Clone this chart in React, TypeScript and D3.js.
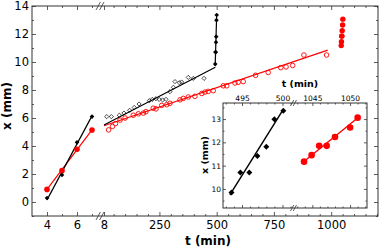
import { FC, useEffect, useRef } from 'react';
import * as d3 from 'd3';

// early phase (t = 4..7 min)
const earlyT = [4, 5, 6, 7];
const earlyBlackX = [0.29, 1.93, 4.26, 6.1];
const earlyRedX = [0.9, 2.24, 3.76, 5.14];

// slow phase (open markers)
const slowBlackT = [20, 40, 75, 95, 120, 140, 161, 206, 219, 235, 249, 264, 279, 296, 311, 318, 337, 347, 376, 398, 445];
const slowBlackX = [6.1, 6.1, 6.2, 6.35, 6.55, 6.75, 7.0, 7.24, 7.33, 7.38, 7.33, 7.29, 7.33, 7.88, 8.19, 8.6, 8.52, 8.57, 8.9, 8.83, 8.83];
const slowRedT = [28, 45, 58, 78, 100, 136, 158, 180, 191, 223, 235, 260, 282, 296, 340, 354, 376, 405, 435, 449, 463, 485, 529, 544, 580, 594, 616, 670, 725, 780, 803, 832, 881, 980];
const slowRedX = [5.15, 5.4, 5.6, 5.85, 6.0, 6.2, 6.3, 6.35, 6.45, 6.7, 6.65, 6.9, 6.95, 7.05, 7.3, 7.4, 7.5, 7.55, 7.75, 7.85, 7.9, 7.95, 8.3, 8.3, 8.5, 8.55, 8.6, 9.05, 9.25, 9.6, 9.65, 9.75, 10.5, 10.5];

// fast phase (filled markers, also shown in the inset)
const burstBlackT = [493.7, 494.8, 495.9, 496.9, 498.0, 499.0, 500.1];
const burstBlackX = [9.85, 10.71, 10.7, 11.41, 11.81, 12.99, 13.36];
const burstRedT = [1043.9, 1044.9, 1045.9, 1046.9, 1048.0, 1050.0, 1051.0];
const burstRedX = [11.17, 11.45, 11.85, 11.85, 12.23, 12.64, 13.06];

// fitted lines [t, x]
const earlyBlackFit: [number, number][] = [[4, 0.15], [7, 6.15]];
const earlyRedFit: [number, number][] = [[4, 0.9], [7, 5.15]];
const slowBlackFit: [number, number][] = [[8, 5.5], [494, 9.62]];
const slowRedFit: [number, number][] = [[8, 5.45], [985, 10.85]];
const burstBlackFit: [number, number][] = [[493.5, 9.74], [500.1, 13.42]];
const burstRedFit: [number, number][] = [[1043.6, 11.1], [1051.2, 13.1]];

// ticks
const mainYTicks = [0, 2, 4, 6, 8, 10, 12, 14];
const mainYMinor = [-1, 1, 3, 5, 7, 9, 11, 13];
const earlyTicks = [4, 6];
const earlyMinor = [5, 7];
const slowTicks = [8, 250, 500, 750, 1000];
const slowMinor = d3.range(50, 1201, 50).filter((v) => v % 250 !== 0);
const insetYTicks = [10, 11, 12, 13];
const insetYMinor = [9.5, 10.5, 11.5, 12.5, 13.5];
const insetLeftTicks = [495, 500];
const insetLeftMinor = [493, 494, 496, 497, 498, 499, 501];
const insetRightTicks = [1045, 1050];
const insetRightMinor = [1043, 1044, 1046, 1047, 1048, 1049, 1051, 1052];

const RED = '#ff0000';
const AX = '#333';
const FONT = 'DejaVu Sans';

const diamond = (h: number) => `M0,${-h}L${h},0L0,${h}L${-h},0Z`;

type G = d3.Selection<SVGGElement, unknown, null, undefined>;
type Lin = d3.ScaleLinear<number, number>;

const ticks = (parent: G, axis: d3.Axis<d3.NumberValue>, tr: string, fs: number) => {
  const g = parent.append('g').attr('transform', tr).call(axis);
  g.select('.domain').remove();
  g.attr('font-family', null).attr('font-size', null);
  g.selectAll('line').attr('stroke', AX).attr('stroke-width', 0.8);
  g.selectAll('text')
    .attr('fill', '#000')
    .style('font-family', FONT)
    .style('font-size', fs + 'px');
};

const breakMark = (parent: G, x: number, y: number, s: number) => {
  [-s * 0.45, s * 0.45].forEach((o) => {
    parent
      .append('line')
      .attr('x1', x + o - s * 0.55)
      .attr('y1', y + s)
      .attr('x2', x + o + s * 0.55)
      .attr('y2', y - s)
      .attr('stroke', AX)
      .attr('stroke-width', 0.8);
  });
};

const fitLine = (parent: G, pts: [number, number][], xs: Lin, ys: Lin, color: string, w: number) => {
  parent
    .append('path')
    .attr('d', d3.line<[number, number]>().x((d) => xs(d[0])).y((d) => ys(d[1]))(pts))
    .attr('fill', 'none')
    .attr('stroke', color)
    .attr('stroke-width', w);
};

const App: FC = () => {
  const svgRef = useRef<SVGSVGElement>(null);

  useEffect(() => {
    if (!svgRef.current) return;
    const svg = d3.select(svgRef.current);
    svg.selectAll('*').remove();
    const root = svg.append('g') as G;

    const y = d3.scaleLinear().domain([-1, 14]).range([216, 6]);
    const xA = d3.scaleLinear().domain([3, 7.5]).range([32, 99.5]);
    const xB = d3.scaleLinear().domain([-7.3, 1204.5]).range([100.5, 378]);

    // fits
    fitLine(root, earlyRedFit, xA, y, RED, 1.2);
    fitLine(root, earlyBlackFit, xA, y, '#000', 1.2);
    fitLine(root, slowRedFit, xB, y, RED, 1.2);
    fitLine(root, slowBlackFit, xB, y, '#000', 1.2);
    fitLine(root, burstBlackFit, xB, y, '#000', 1.2);

    // early markers
    root.selectAll('.er').data(earlyT).join('circle')
      .attr('cx', (d) => xA(d)).attr('cy', (_, i) => y(earlyRedX[i]))
      .attr('r', 2.8).attr('fill', RED);
    root.selectAll('.eb').data(earlyT).join('path')
      .attr('d', diamond(2.3))
      .attr('transform', (d, i) => `translate(${xA(d)},${y(earlyBlackX[i])})`)
      .attr('fill', '#000');

    // slow markers
    root.selectAll('.sr').data(slowRedT).join('circle')
      .attr('cx', (d) => xB(d)).attr('cy', (_, i) => y(slowRedX[i]))
      .attr('r', 2.3).attr('fill', 'none').attr('stroke', RED).attr('stroke-width', 0.9);
    root.selectAll('.sb').data(slowBlackT).join('path')
      .attr('d', diamond(2.1))
      .attr('transform', (d, i) => `translate(${xB(d)},${y(slowBlackX[i])})`)
      .attr('fill', 'none').attr('stroke', '#000').attr('stroke-width', 0.7);

    // burst markers
    root.selectAll('.br').data(burstRedT).join('circle')
      .attr('cx', (d) => xB(d)).attr('cy', (_, i) => y(burstRedX[i]))
      .attr('r', 2.7).attr('fill', RED);
    root.selectAll('.bb').data(burstBlackT).join('path')
      .attr('d', diamond(2.3))
      .attr('transform', (d, i) => `translate(${xB(d)},${y(burstBlackX[i])})`)
      .attr('fill', '#000');

    // main frame + ticks
    root.append('rect').attr('x', 32).attr('y', 6).attr('width', 346).attr('height', 210)
      .attr('fill', 'none').attr('stroke', AX).attr('stroke-width', 1);

    const none = () => '';
    ticks(root, d3.axisLeft(y).tickValues(mainYTicks).tickSize(-4).tickPadding(3).tickFormat(d3.format('d')), 'translate(32,0)', 11.5);
    ticks(root, d3.axisLeft(y).tickValues(mainYMinor).tickSize(-2).tickFormat(none), 'translate(32,0)', 11.5);
    ticks(root, d3.axisRight(y).tickValues(mainYTicks).tickSize(-4).tickFormat(none), 'translate(378,0)', 11.5);
    ticks(root, d3.axisRight(y).tickValues(mainYMinor).tickSize(-2).tickFormat(none), 'translate(378,0)', 11.5);

    const segs: [Lin, number[], number[]][] = [[xA, earlyTicks, earlyMinor], [xB, slowTicks, slowMinor]];
    segs.forEach(([sc, major, minor]) => {
      ticks(root, d3.axisBottom(sc).tickValues(major).tickSize(-4).tickPadding(5).tickFormat(d3.format('d')), 'translate(0,216)', 11.5);
      ticks(root, d3.axisBottom(sc).tickValues(minor).tickSize(-2).tickFormat(none), 'translate(0,216)', 11.5);
      ticks(root, d3.axisTop(sc).tickValues(major).tickSize(-4).tickFormat(none), 'translate(0,6)', 11.5);
      ticks(root, d3.axisTop(sc).tickValues(minor).tickSize(-2).tickFormat(none), 'translate(0,6)', 11.5);
    });
    breakMark(root, 100, 216, 4);
    breakMark(root, 100, 6, 4);

    root.append('text').text('x (mm)').attr('transform', 'translate(11,106) rotate(-90)')
      .attr('text-anchor', 'middle').style('font-family', FONT).style('font-size', '12px').style('font-weight', 'bold');
    root.append('text').text('t (min)').attr('x', 208).attr('y', 245)
      .attr('text-anchor', 'middle').style('font-family', FONT).style('font-size', '12px').style('font-weight', 'bold');

    // inset
    const iy = d3.scaleLinear().domain([9.18, 13.69]).range([208, 103]);
    const ixA = d3.scaleLinear().domain([492.65, 501.36]).range([223, 293.5]);
    const ixB = d3.scaleLinear().domain([1042.5, 1052.24]).range([293.5, 367]);
    const inset = root.append('g') as G;
    inset.append('rect').attr('x', 223).attr('y', 103).attr('width', 144).attr('height', 105)
      .attr('fill', '#fff').attr('stroke', 'none');

    fitLine(inset, burstBlackFit, ixA, iy, '#000', 1.4);
    fitLine(inset, burstRedFit, ixB, iy, RED, 1.4);
    inset.selectAll('.ib').data(burstBlackT).join('path')
      .attr('d', diamond(3))
      .attr('transform', (d, i) => `translate(${ixA(d)},${iy(burstBlackX[i])})`)
      .attr('fill', '#000');
    inset.selectAll('.ir').data(burstRedT).join('circle')
      .attr('cx', (d) => ixB(d)).attr('cy', (_, i) => iy(burstRedX[i]))
      .attr('r', 3.3).attr('fill', RED);

    inset.append('rect').attr('x', 223).attr('y', 103).attr('width', 144).attr('height', 105)
      .attr('fill', 'none').attr('stroke', AX).attr('stroke-width', 1);

    ticks(inset, d3.axisLeft(iy).tickValues(insetYTicks).tickSize(-3).tickPadding(2).tickFormat(d3.format('d')), 'translate(223,0)', 7.5);
    ticks(inset, d3.axisLeft(iy).tickValues(insetYMinor).tickSize(-1.5).tickFormat(none), 'translate(223,0)', 7.5);
    ticks(inset, d3.axisRight(iy).tickValues(insetYTicks).tickSize(-3).tickFormat(none), 'translate(367,0)', 7.5);
    ticks(inset, d3.axisRight(iy).tickValues(insetYMinor).tickSize(-1.5).tickFormat(none), 'translate(367,0)', 7.5);
    const isegs: [Lin, number[], number[]][] = [[ixA, insetLeftTicks, insetLeftMinor], [ixB, insetRightTicks, insetRightMinor]];
    isegs.forEach(([sc, major, minor]) => {
      ticks(inset, d3.axisTop(sc).tickValues(major).tickSize(-3).tickPadding(2.5).tickFormat(d3.format('d')), 'translate(0,103)', 7.5);
      ticks(inset, d3.axisTop(sc).tickValues(minor).tickSize(-1.5).tickFormat(none), 'translate(0,103)', 7.5);
      ticks(inset, d3.axisBottom(sc).tickValues(major).tickSize(-3).tickFormat(none), 'translate(0,208)', 7.5);
      ticks(inset, d3.axisBottom(sc).tickValues(minor).tickSize(-1.5).tickFormat(none), 'translate(0,208)', 7.5);
    });
    breakMark(inset, 293.5, 103, 3);
    breakMark(inset, 293.5, 208, 3);

    inset.append('text').text('t (min)').attr('x', 300).attr('y', 87)
      .attr('text-anchor', 'middle').style('font-family', FONT).style('font-size', '9.5px').style('font-weight', 'bold');
    inset.append('text').text('x (mm)').attr('transform', 'translate(208,155) rotate(-90)')
      .attr('text-anchor', 'middle').style('font-family', FONT).style('font-size', '9.5px').style('font-weight', 'bold');
  }, []);

  return (
    <svg
      ref={svgRef}
      width={381}
      height={249}
      style={{ position: 'absolute', left: 0, top: 0, background: '#fff' }}
    />
  );
};

export default App;
